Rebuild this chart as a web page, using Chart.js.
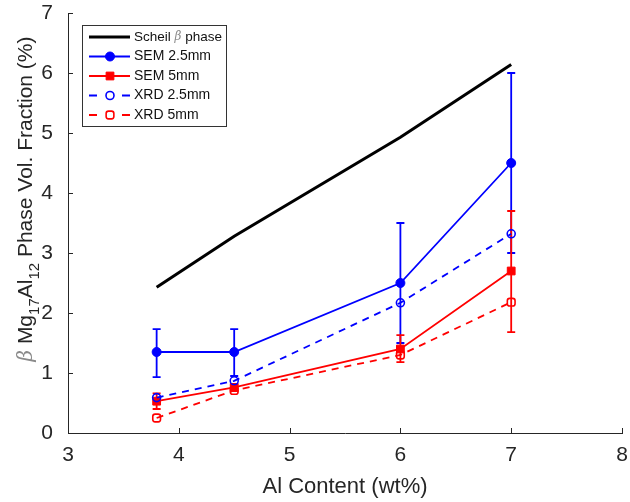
<!DOCTYPE html>
<html>
<head>
<meta charset="utf-8">
<script src="https://cdn.jsdelivr.net/npm/chart.js@4"></script>
<style>
  body { margin: 0; background: #fff; }
  canvas { display: block; }
</style>
</head>
<body>
<canvas id="chart" width="630" height="502"></canvas>
<script>
// values
const alContent = [3.8, 4.5, 6, 7];
const scheil = [2.43, 3.28, 4.93, 6.14];
const sem25 = [1.35, 1.35, 2.5, 4.5];
const sem25Lo = [0.93, 0.95, 1.5, 3.0];
const sem25Hi = [1.73, 1.73, 3.5, 6.0];
const sem5 = [0.53, 0.76, 1.4, 2.7];
const sem5Lo = [0.4, 0.7, 1.18, 1.68];
const sem5Hi = [0.66, 0.82, 1.63, 3.7];
const xrd25 = [0.59, 0.87, 2.17, 3.32];
const xrd5 = [0.25, 0.71, 1.3, 2.18];
const xTicks = [3, 4, 5, 6, 7, 8];
const yTicks = [0, 1, 2, 3, 4, 5, 6, 7];

const axisColor = '#262626';
const fontFam = 'Arial, "Liberation Sans", sans-serif';

function pts(ys) {
    return alContent.map((x, i) => ({ x: x, y: ys[i] }));
}

// error bars, drawn right after their own dataset
const errorBars = {
    id: 'errorBars',
    afterDatasetDraw(chart, args) {
        const ds = chart.data.datasets[args.index];
        if (!ds.errLo) return;
        const ctx = chart.ctx, xs = chart.scales.x, ys = chart.scales.y;
        ctx.save();
        ctx.strokeStyle = ds.borderColor;
        ctx.lineWidth = ds.borderWidth;
        alContent.forEach((x, i) => {
            const px = xs.getPixelForValue(x);
            const top = ys.getPixelForValue(ds.errHi[i]);
            const bot = ys.getPixelForValue(ds.errLo[i]);
            ctx.beginPath();
            ctx.moveTo(px, top); ctx.lineTo(px, bot);
            ctx.moveTo(px - 4, top); ctx.lineTo(px + 4, top);
            ctx.moveTo(px - 4, bot); ctx.lineTo(px + 4, bot);
            ctx.stroke();
        });
        ctx.restore();
    }
};

// inward tick marks, y title with subscripts, boxed legend
const decorations = {
    id: 'decorations',
    afterDraw(chart) {
        const ctx = chart.ctx, xs = chart.scales.x, ys = chart.scales.y;
        const a = chart.chartArea;
        ctx.save();
        ctx.strokeStyle = axisColor;
        ctx.lineWidth = 1;
        ctx.beginPath();
        xTicks.forEach(v => {
            const px = Math.round(xs.getPixelForValue(v)) + 0.5;
            ctx.moveTo(px, a.bottom); ctx.lineTo(px, a.bottom - 5);
        });
        yTicks.forEach(v => {
            const py = Math.round(ys.getPixelForValue(v)) + 0.5;
            ctx.moveTo(a.left, py); ctx.lineTo(a.left + 5, py);
        });
        ctx.stroke();

        // y axis title
        const parts = [
            { t: '\u03b2', f: 'italic 20px "DejaVu Serif", serif', c: '#8a8a8a', dy: 0 },
            { t: ' Mg', f: '21px ' + fontFam, c: axisColor, dy: 0 },
            { t: '17', f: '15px ' + fontFam, c: axisColor, dy: 7 },
            { t: 'Al', f: '21px ' + fontFam, c: axisColor, dy: 0 },
            { t: '12', f: '15px ' + fontFam, c: axisColor, dy: 7 },
            { t: ' Phase Vol. Fraction (%)', f: '21px ' + fontFam, c: axisColor, dy: 0 }
        ];
        let total = 0;
        parts.forEach(p => { ctx.font = p.f; p.w = ctx.measureText(p.t).width; total += p.w; });
        ctx.translate(32, 199);
        ctx.rotate(-Math.PI / 2);
        ctx.textBaseline = 'alphabetic';
        let cx = -total / 2;
        parts.forEach(p => {
            ctx.font = p.f; ctx.fillStyle = p.c;
            ctx.fillText(p.t, cx, p.dy);
            cx += p.w;
        });
        ctx.setTransform(1, 0, 0, 1, 0, 0);

        // legend
        const lx = 82, ly = 25, lw = 144, lh = 101;
        ctx.fillStyle = '#fff';
        ctx.fillRect(lx, ly, lw, lh);
        ctx.strokeStyle = '#333';
        ctx.lineWidth = 1;
        ctx.strokeRect(lx + 0.5, ly + 0.5, lw, lh);
        chart.data.datasets.forEach((ds, i) => {
            const y = 37 + i * 19.5;
            ctx.strokeStyle = ds.borderColor;
            ctx.lineWidth = ds.borderWidth;
            ctx.setLineDash(ds.borderDash ? [8, 25] : []);
            ctx.beginPath();
            ctx.moveTo(89, y); ctx.lineTo(130, y);
            ctx.stroke();
            ctx.setLineDash([]);
            if (ds.pointRadius > 0) {
                ctx.strokeStyle = ds.borderColor;
                ctx.lineWidth = ds.pointBorderWidth;
                ctx.fillStyle = ds.pointBackgroundColor;
                Chart.helpers.drawPoint(ctx, { pointStyle: ds.pointStyle, radius: ds.pointRadius, borderWidth: ds.pointBorderWidth }, 110, y);
            }
            ctx.fillStyle = '#111';
            ctx.textBaseline = 'middle';
            ctx.font = '14px ' + fontFam;
            if (i === 0) {
                let tx = 134;
                ctx.font = '13.5px ' + fontFam;
                ctx.fillText('Scheil ', tx, y); tx += ctx.measureText('Scheil ').width;
                ctx.font = 'italic 12px "DejaVu Serif", serif';
                ctx.fillStyle = '#8a8a8a';
                ctx.fillText('\u03b2', tx, y); tx += ctx.measureText('\u03b2').width;
                ctx.font = '13.5px ' + fontFam;
                ctx.fillStyle = '#111';
                ctx.fillText(' phase', tx, y);
            } else {
                ctx.fillText(ds.label, 134, y);
            }
        });
        ctx.restore();
    }
};

new Chart(document.getElementById('chart'), {
    type: 'line',
    data: {
        datasets: [
            { label: 'Scheil \u03b2 phase', data: pts(scheil), borderColor: '#000', borderWidth: 3,
              pointRadius: 0, order: 5 },
            { label: 'SEM 2.5mm', data: pts(sem25), borderColor: '#0000ff', borderWidth: 1.8,
              pointStyle: 'circle', pointRadius: 4.5, pointBackgroundColor: '#0000ff', pointBorderWidth: 1,
              errLo: sem25Lo, errHi: sem25Hi, order: 4 },
            { label: 'SEM 5mm', data: pts(sem5), borderColor: '#ff0000', borderWidth: 1.8,
              pointStyle: 'rect', pointRadius: 5.5, pointBackgroundColor: '#ff0000', pointBorderWidth: 1,
              errLo: sem5Lo, errHi: sem5Hi, order: 3 },
            { label: 'XRD 2.5mm', data: pts(xrd25), borderColor: '#0000ff', borderWidth: 1.8, borderDash: [7, 6],
              pointStyle: 'circle', pointRadius: 4, pointBackgroundColor: 'rgba(0,0,0,0)', pointBorderWidth: 1.6,
              order: 2 },
            { label: 'XRD 5mm', data: pts(xrd5), borderColor: '#ff0000', borderWidth: 1.8, borderDash: [7, 6],
              pointStyle: 'rectRounded', pointRadius: 4.5, pointBackgroundColor: 'rgba(0,0,0,0)', pointBorderWidth: 1.6,
              order: 1 }
        ]
    },
    options: {
        responsive: false,
        animation: false,
        devicePixelRatio: 1,
        layout: { padding: { top: 13, right: 8, left: 0, bottom: 0 } },
        plugins: { legend: { display: false }, tooltip: { enabled: false } },
        scales: {
            x: {
                type: 'linear', min: 3, max: 8,
                afterBuildTicks: s => { s.ticks = xTicks.map(v => ({ value: v })); },
                afterFit: s => { s.height = 69; s.paddingLeft = 0; s.paddingRight = 0; },
                grid: { display: false, drawTicks: false },
                border: { display: true, color: axisColor, width: 1 },
                ticks: { padding: 10, color: axisColor, font: { family: fontFam, size: 21 } },
                title: { display: true, text: 'Al Content (wt%)', color: axisColor,
                         font: { family: fontFam, size: 22 }, padding: { bottom: 2 } }
            },
            y: {
                min: 0, max: 7,
                afterBuildTicks: s => { s.ticks = yTicks.map(v => ({ value: v })); },
                afterFit: s => { s.width = 68; s.paddingTop = 0; s.paddingBottom = 0; },
                grid: { display: false, drawTicks: false },
                border: { display: true, color: axisColor, width: 1 },
                ticks: { padding: 15, color: axisColor, font: { family: fontFam, size: 21 } }
            }
        }
    },
    plugins: [errorBars, decorations]
});
</script>
</body>
</html>
